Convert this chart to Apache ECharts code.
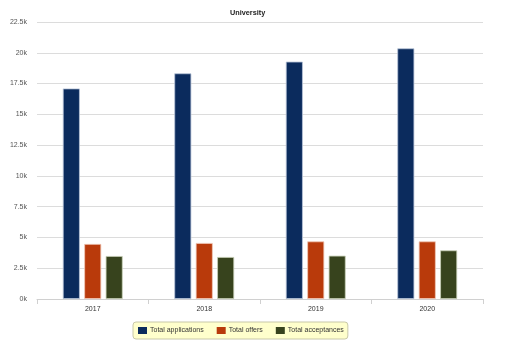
<!DOCTYPE html>
<html>
<head>
<meta charset="utf-8">
<script src="https://cdn.jsdelivr.net/npm/echarts@6/dist/echarts.min.js"></script>
<style>
  html, body { margin: 0; padding: 0; background: #fff; }
  #chart { width: 507px; height: 347px; }
</style>
</head>
<body>
<div id="chart"></div>
<script>
// Admissions figures per year
const years = ['2017', '2018', '2019', '2020'];
const applications = [17100, 18330, 19280, 20360];
const offers = [4470, 4550, 4680, 4680];
const acceptances = [3490, 3410, 3520, 3950];
const seriesNames = ['Total applications', 'Total offers', 'Total acceptances'];
const seriesColors = ['#0b2b5d', '#b93a0b', '#37431d'];
const edgeColors = ['#b8c4d8', '#f0c8b8', '#c8d0b8'];

const font = 'Liberation Sans, Arial, sans-serif';

function barSeries(i, data) {
  return {
    name: seriesNames[i],
    type: 'bar',
    data: data,
    barWidth: 17,
    barGap: '26%',
    itemStyle: { color: seriesColors[i], borderColor: edgeColors[i], borderWidth: 0.8 }
  };
}

const chart = echarts.init(document.getElementById('chart'), null, { renderer: 'canvas' });
chart.setOption({
  animation: false,
  backgroundColor: '#fff',
  title: {
    text: 'University',
    left: 225,
    top: 4,
    textStyle: { fontFamily: font, fontSize: 7.3, fontWeight: 'bold', color: '#222' }
  },
  grid: { left: 37, right: 24, top: 22, bottom: 48, containLabel: false, outerBoundsMode: 'none' },
  legend: {
    left: 133,
    top: 322,
    padding: [5, 4, 5, 5],
    backgroundColor: '#ffffcc',
    borderColor: '#c8c8a8',
    borderWidth: 1,
    borderRadius: 3,
    itemWidth: 9,
    itemHeight: 7,
    itemGap: 13,
    icon: 'rect',
    itemStyle: { borderWidth: 0 },
    textStyle: { fontFamily: font, fontSize: 7, color: '#333', padding: [0, 0, 0, -2] },
    data: seriesNames
  },
  xAxis: {
    type: 'category',
    data: years,
    axisLine: { lineStyle: { color: '#d0d0d0' } },
    axisTick: { show: true, alignWithLabel: false, length: 5, lineStyle: { color: '#d0d0d0' } },
    axisLabel: { fontFamily: font, fontSize: 7, color: '#333', margin: 7 }
  },
  yAxis: {
    type: 'value',
    min: 0,
    max: 22500,
    interval: 2500,
    name: 'Values',
    nameLocation: 'middle',
    nameGap: 30,
    nameTextStyle: { fontFamily: font, fontSize: 7, color: '#444' },
    axisLine: { show: false },
    axisTick: { show: false },
    axisLabel: {
      fontFamily: font, fontSize: 7, color: '#555', margin: 10,
      formatter: v => (v / 1000) + 'k'
    },
    splitLine: { lineStyle: { color: '#dcdcdc' } }
  },
  series: [
    barSeries(0, applications),
    barSeries(1, offers),
    barSeries(2, acceptances)
  ]
});
</script>
</body>
</html>
